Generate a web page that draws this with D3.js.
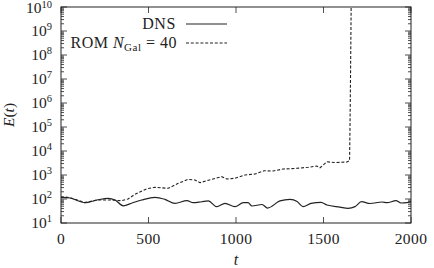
<!DOCTYPE html>
<html><head><meta charset="utf-8">
<script src="https://cdn.jsdelivr.net/npm/d3@7"></script>
<style>body{margin:0;background:#fff}svg{display:block}</style>
</head><body><svg id="c" width="434" height="268" font-family="'Liberation Serif', 'DejaVu Serif', serif"></svg>
<script>
const tDNS = [0,51,137,206,270,309,356,406,461,537,594,651,720,756,804,842,890,937,994,1042,1069,1091,1149,1180,1251,1309,1349,1383,1429,1486,1520,1594,1640,1680,1717,1766,1834,1863,1914,1943,1977,2000];
const eDNS = [118,110,70,91,107,91,52,68,91,118,97,66,85,70,77,83,48,66,48,70,70,51,59,42,83,97,79,48,66,73,56,46,41,48,77,65,75,70,85,68,70,79];
const tROM = [0,51,137,206,280,347,383,423,490,537,613,670,727,766,794,861,918,947,994,1051,1109,1160,1213,1270,1347,1413,1461,1480,1520,1560,1634,1649,1653,1658,1662];
const eROM = [125,115,71,91,91,85,100,157,268,307,279,451,661,615,478,661,851,681,731,1000,1100,1500,1468,1778,1900,2100,2370,2000,3570,3300,3460,3950,1e6,1e10,1e12];
const xTicks = [0,500,1000,1500,2000];
const yExps = [1,2,3,4,5,6,7,8,9,10];

const svg = d3.select("#c");
const L=61, R=411, T=7, B=223;
const x = d3.scaleLinear().domain([0,2000]).range([L,R]);
const y = d3.scaleLog().domain([10,1e10]).range([B,T]);
const ink="#222";

svg.append("defs").append("clipPath").attr("id","clip").append("rect")
  .attr("x",L).attr("y",T).attr("width",R-L).attr("height",B-T);

// ticks
const g = svg.append("g").attr("stroke",ink).attr("stroke-width",0.8);
xTicks.forEach(v=>{
  g.append("line").attr("x1",x(v)).attr("x2",x(v)).attr("y1",B).attr("y2",B-6);
  g.append("line").attr("x1",x(v)).attr("x2",x(v)).attr("y1",T).attr("y2",T+6);
});
yExps.forEach(e=>{
  const v=Math.pow(10,e);
  g.append("line").attr("x1",L).attr("x2",L+6).attr("y1",y(v)).attr("y2",y(v));
  g.append("line").attr("x1",R).attr("x2",R-6).attr("y1",y(v)).attr("y2",y(v));
  if(e<10){
    for(let m=2;m<=9;m++){
      const yy=y(m*v);
      g.append("line").attr("x1",L).attr("x2",L+3).attr("y1",yy).attr("y2",yy);
      g.append("line").attr("x1",R).attr("x2",R-3).attr("y1",yy).attr("y2",yy);
    }
  }
});
svg.append("rect").attr("x",L).attr("y",T).attr("width",R-L).attr("height",B-T)
  .attr("fill","none").attr("stroke",ink).attr("stroke-width",1);

// tick labels
xTicks.forEach(v=>{
  svg.append("text").attr("x",x(v)).attr("y",243.5).attr("text-anchor","middle")
    .attr("font-size",15.5).attr("letter-spacing",0.4).attr("fill",ink).text(v);
});
yExps.forEach(e=>{
  const t=svg.append("text").attr("x",52).attr("y",y(Math.pow(10,e))+(e===10?5.5:4.5))
    .attr("text-anchor","end").attr("font-size",15.5).attr("fill",ink);
  t.append("tspan").text("10");
  t.append("tspan").attr("dy",e===10?-5:-6).attr("font-size",10.5).text(e);
});
svg.append("text").attr("x",x(1000)).attr("y",265).attr("text-anchor","middle")
  .attr("font-size",16).attr("font-style","italic").attr("fill",ink).text("t");
const yl=svg.append("text").attr("transform","translate(14,115) rotate(-90)")
  .attr("text-anchor","middle").attr("font-size",15.5).attr("fill",ink);
yl.append("tspan").attr("font-style","italic").text("E");
yl.append("tspan").text("(");
yl.append("tspan").attr("font-style","italic").text("t");
yl.append("tspan").text(")");

// lines
const line = d3.line().x(d=>x(d[0])).y(d=>y(d[1])).curve(d3.curveMonotoneX);
const plot = svg.append("g").attr("clip-path","url(#clip)");
plot.append("path").datum(tDNS.map((t,i)=>[t,eDNS[i]])).attr("d",line)
  .attr("fill","none").attr("stroke",ink).attr("stroke-width",1.2);
plot.append("path").datum(tROM.map((t,i)=>[t,eROM[i]])).attr("d",d3.line().x(d=>x(d[0])).y(d=>y(d[1])))
  .attr("fill","none").attr("stroke",ink).attr("stroke-width",1.1).attr("stroke-dasharray","3,1.8");

// legend
svg.append("text").attr("x",176).attr("y",28.5).attr("text-anchor","end").attr("font-size",16)
  .attr("letter-spacing",0.6).attr("fill",ink).text("DNS");
svg.append("line").attr("x1",186).attr("x2",227).attr("y1",24).attr("y2",24).attr("stroke",ink).attr("stroke-width",1.2);
const lt=svg.append("text").attr("x",177).attr("y",47.5).attr("text-anchor","end").attr("font-size",16)
  .attr("letter-spacing",0.5).attr("fill",ink).attr("xml:space","preserve");
lt.append("tspan").text("ROM ");
lt.append("tspan").attr("font-style","italic").text("N");
lt.append("tspan").attr("dy",3).attr("font-size",11).text("Gal");
lt.append("tspan").attr("dy",-3).text(" = 40");
svg.append("line").attr("x1",186).attr("x2",227).attr("y1",43).attr("y2",43).attr("stroke",ink)
  .attr("stroke-width",1.1).attr("stroke-dasharray","3,1.8");
</script></body></html>
